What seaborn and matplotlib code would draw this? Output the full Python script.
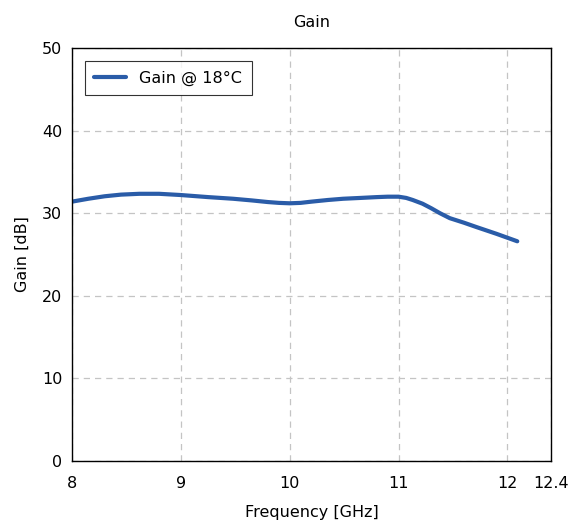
import numpy as np
import pandas as pd
import matplotlib
matplotlib.use('Agg')
import matplotlib.pyplot as plt
import seaborn as sns

# data
freq = [8.0, 8.15, 8.3, 8.45, 8.62, 8.8, 9.0, 9.25, 9.48, 9.65, 9.8, 9.9, 10.0, 10.1, 10.2, 10.35,
        10.49, 10.65, 10.8, 10.9, 11.0, 11.07, 11.13, 11.22, 11.3, 11.38, 11.47, 11.6, 11.72, 11.9, 12.09]
gain = [31.4, 31.75, 32.05, 32.25, 32.35, 32.35, 32.2, 31.95, 31.75, 31.55, 31.35, 31.25, 31.2, 31.25, 31.4, 31.6,
        31.75, 31.85, 31.95, 32.0, 32.0, 31.85, 31.6, 31.15, 30.6, 30.0, 29.4, 28.85, 28.3, 27.5, 26.6]
label = 'Gain @ 18°C'

df = pd.DataFrame({'Frequency': freq, 'Gain': gain})

sns.set_theme(style='white')
plt.rcParams['font.family'] = ['DejaVu Sans']
plt.rcParams['text.color'] = 'black'
plt.rcParams['axes.labelcolor'] = 'black'

fig = plt.figure(figsize=(5.7, 5.22), dpi=100)
ax = fig.add_axes([0.1263, 0.1169, 0.8404, 0.7911])

sns.lineplot(data=df, x='Frequency', y='Gain', ax=ax, color='#2a5ca8', linewidth=3.0, label=label)

ax.set_xlim(8, 12.4)
ax.set_ylim(0, 50)
ax.set_xticks([8, 9, 10, 11, 12, 12.4])
ax.set_xticklabels(['8', '9', '10', '11', '12', '12.4'])
ax.set_yticks([0, 10, 20, 30, 40, 50])
ax.grid(True, color='#c4c4c4', linestyle=(0, (5, 4)), linewidth=0.9)
for s in ax.spines.values():
    s.set_color('black')
    s.set_linewidth(1.0)
ax.tick_params(direction='in', length=4, color='#888888', labelsize=11.5, labelcolor='black')
ax.tick_params(axis='x', pad=11)
ax.tick_params(axis='y', pad=7)

ax.set_xlabel('Frequency [GHz]', fontsize=11.5, labelpad=10)
ax.set_ylabel('Gain [dB]', fontsize=11.5, labelpad=9)
ax.set_title('Gain', fontsize=11.5, pad=15)

leg = ax.legend(loc='upper left', fontsize=11.5, frameon=True, fancybox=False,
                edgecolor='black', borderaxespad=0.8, handlelength=2.0, borderpad=0.6)
leg.get_frame().set_linewidth(0.8)

fig.savefig('out.png', dpi=100)
